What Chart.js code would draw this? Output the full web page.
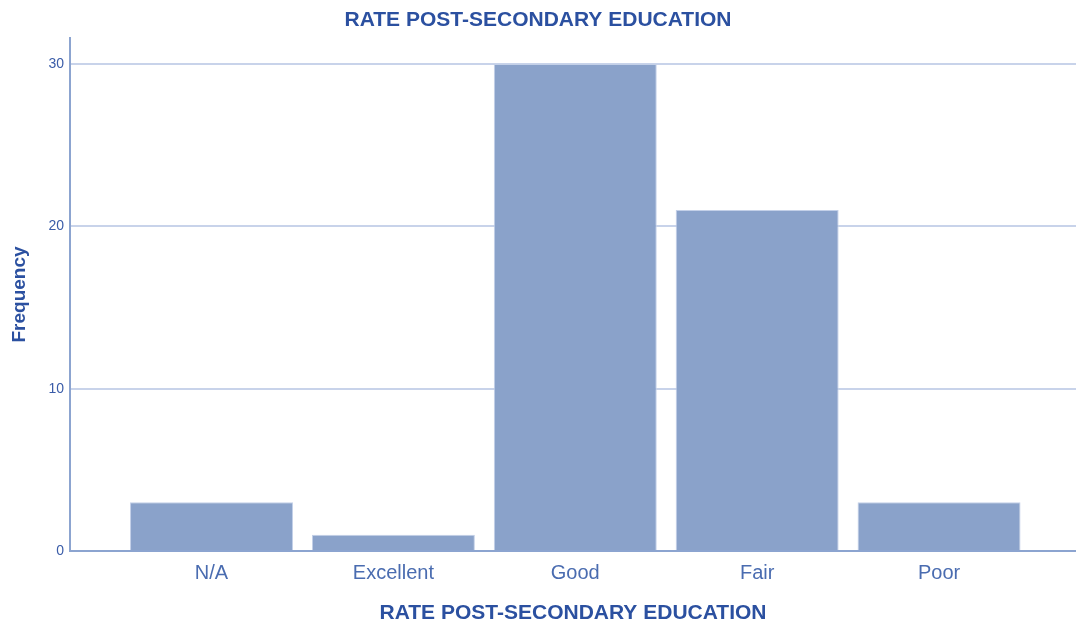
<!DOCTYPE html>
<html>
<head>
<meta charset="utf-8">
<script src="https://cdn.jsdelivr.net/npm/chart.js@4.4.0/dist/chart.umd.min.js"></script>
<style>
  html, body { margin: 0; padding: 0; background: #fff; }
  #wrap { width: 1076px; height: 627px; }
</style>
</head>
<body>
<div id="wrap"><canvas id="chart" width="1076" height="627"></canvas></div>
<script>
const categories = ["N/A", "Excellent", "Good", "Fair", "Poor"];
const frequencies = [3, 1, 30, 21, 3];
const yTicks = [0, 10, 20, 30];

const TITLE = "RATE POST-SECONDARY EDUCATION";
const TEXT_COLOR = "#2b50a0";
const FONT = "'Liberation Sans', Arial, sans-serif";

const points = frequencies.map((v, i) => ({ x: i, y: v }));

new Chart(document.getElementById("chart"), {
  type: "bar",
  data: {
    datasets: [
      {
        label: "Frequency",
        data: points,
        backgroundColor: "#8aa2ca",
        borderColor: "#c3d0e8",
        borderWidth: 1,
        barPercentage: 0.896,
        categoryPercentage: 1,
      },
    ],
  },
  options: {
    responsive: false,
    animation: false,
    layout: { padding: 0 },
    plugins: {
      legend: { display: false },
      tooltip: { enabled: false },
      title: {
        display: true,
        text: TITLE,
        color: TEXT_COLOR,
        font: { family: FONT, size: 21, weight: "bold", lineHeight: 1.2 },
        padding: { top: 7.4, bottom: 5.4 },
      },
    },
    scales: {
      x: {
        type: "linear",
        offset: false,
        min: -0.778,
        max: 4.753,
        afterBuildTicks: (scale) => {
          scale.ticks = categories.map((_, i) => ({ value: i }));
        },
        afterFit: (scale) => { scale.height = 76; },
        grid: { display: false, drawTicks: false, offset: false },
        border: { display: true, color: "#8ca4d0", width: 2 },
        ticks: {
          autoSkip: false,
          maxRotation: 0,
          padding: 10,
          color: "#4a6cb0",
          font: { family: FONT, size: 20 },
          callback: (v) => categories[v] ?? "",
        },
        title: {
          display: true,
          text: TITLE,
          color: TEXT_COLOR,
          font: { family: FONT, size: 21, weight: "bold", lineHeight: 1.2 },
          padding: { top: 0, bottom: 1.4 },
        },
      },
      y: {
        min: 0,
        max: 31.6,
        afterBuildTicks: (scale) => {
          scale.ticks = yTicks.map((v) => ({ value: v }));
        },
        afterFit: (scale) => { scale.width = 70; },
        grid: { color: "#c8d3ea", lineWidth: 2, drawTicks: false },
        border: { display: true, color: "#8ca4d0", width: 2 },
        ticks: {
          padding: 6,
          color: "#3a5ca8",
          font: { family: FONT, size: 14 },
        },
        title: {
          display: true,
          text: "Frequency",
          color: TEXT_COLOR,
          font: { family: FONT, size: 19, weight: "bold", lineHeight: 1.2 },
          padding: { top: 8.6, bottom: 0 },
        },
      },
    },
  },
});
</script>
</body>
</html>
